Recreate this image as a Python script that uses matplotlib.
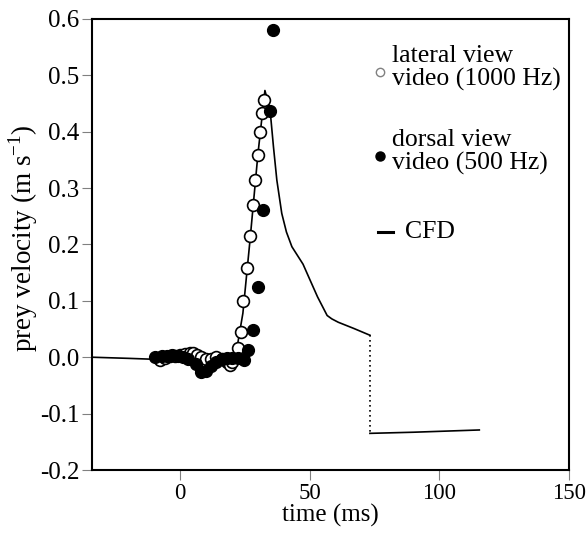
#IMPORTING THE LIBRARIES
import numpy as np
import matplotlib
matplotlib.use("Agg")
import matplotlib.pyplot as plt

plt.rcParams['font.family'] = ['Liberation Serif', 'DejaVu Serif']

#DATA
# CFD simulation (ms, m/s)
cfd_t = [-34, -20, -8, 0, 10, 20, 21.5, 24.2, 27, 30, 32.7, 34.7, 36.0, 37.3, 39.2, 41, 43.1, 47.4, 50, 53, 56.7, 58.5, 61, 67, 73.2]
cfd_v = [0.0, -0.002, -0.004, -0.005, -0.007, -0.008, 0.005, 0.078, 0.21, 0.36, 0.473, 0.438, 0.373, 0.314, 0.255, 0.222, 0.196, 0.165, 0.138, 0.107, 0.074, 0.068, 0.062, 0.051, 0.039]
# after the jump
cfd2_t = [73.2, 90, 115.4]
cfd2_v = [-0.135, -0.133, -0.129]

# lateral view video (1000 Hz), open circles
lat_t = [-7.7, -6, -4, -2, 0, 2, 3.8, 5, 6.4, 8, 10, 12, 14, 16, 18, 19.2, 19.9, 22.5, 23.3, 24.4, 25.6, 27.0, 28.2, 29.0, 30.1, 30.8, 31.5, 32.4]
lat_v = [-0.005, -0.002, 0.002, 0.003, 0.004, 0.005, 0.007, 0.008, 0.004, 0.0, -0.004, -0.003, 0.0, -0.004, -0.008, -0.014, -0.008, 0.016, 0.045, 0.10, 0.158, 0.215, 0.27, 0.315, 0.359, 0.40, 0.433, 0.457]

# dorsal view video (500 Hz), filled circles
dor_t = [-9.6, -7, -5, -3, -1, 1, 3, 6, 8, 10, 12, 14, 16, 18, 20, 22.3, 24.6, 26.3, 28.2, 30.1, 32.1, 34.6, 35.9]
dor_v = [0.0, 0.002, 0.003, 0.004, 0.002, 0.001, -0.004, -0.012, -0.026, -0.024, -0.016, -0.008, -0.003, -0.001, -0.002, -0.001, -0.005, 0.012, 0.048, 0.125, 0.261, 0.437, 0.58]

#PLOTTING
fig = plt.figure(figsize=(5.86, 5.39), dpi=100)
ax = fig.add_axes([0.157, 0.128, 0.814, 0.837])

ax.plot(cfd_t, cfd_v, color="black", lw=1.2, zorder=2)
ax.plot([cfd_t[-1], cfd2_t[0]], [cfd_v[-1], cfd2_v[0]], color="black", lw=1.2, ls=(0, (1, 2)), zorder=2)
ax.plot(cfd2_t, cfd2_v, color="black", lw=1.2, zorder=2)

ax.plot(lat_t, lat_v, 'o', ms=8.5, mfc="white", mec="black", mew=1.2, zorder=3)
ax.plot(dor_t, dor_v, 'o', ms=8.5, mfc="black", mec="black", zorder=4)

ax.set_xlim(-34, 150)
ax.set_ylim(-0.2, 0.6)
ax.set_xticks([0, 50, 100, 150])
ax.set_yticks(np.arange(-0.2, 0.61, 0.1))
ax.set_yticklabels(["%.1f" % v for v in np.arange(-0.2, 0.61, 0.1)])
ax.tick_params(direction="out", length=7, width=0.8, color="gray", labelsize=18, pad=2)
ax.tick_params(axis="x", labelsize=16.5)
for s in ax.spines.values():
    s.set_linewidth(1.5)

ax.set_xlabel("time (ms)", fontsize=18, labelpad=0)
ax.set_ylabel("prey velocity (m s$^{\\mathregular{-1}}$)", fontsize=19.5)
ax.yaxis.set_label_coords(-0.108, 0.514)

#LEGEND (drawn by hand)
ax.plot([0.604], [0.882], 'o', ms=6, mfc="white", mec="gray", transform=ax.transAxes)
ax.text(0.629, 0.891, "lateral view\nvideo (1000 Hz)", transform=ax.transAxes, fontsize=18.5, va="center", ha="left", linespacing=1.05)
ax.plot([0.604], [0.696], 'o', ms=6.5, mfc="black", mec="black", transform=ax.transAxes)
ax.text(0.629, 0.705, "dorsal view\nvideo (500 Hz)", transform=ax.transAxes, fontsize=18.5, va="center", ha="left", linespacing=1.05)
ax.plot([0.600, 0.631], [0.528, 0.528], color="black", lw=2.2, transform=ax.transAxes)
ax.text(0.656, 0.528, "CFD", transform=ax.transAxes, fontsize=18.5, va="center", ha="left")

plt.savefig("out.png", dpi=100)
